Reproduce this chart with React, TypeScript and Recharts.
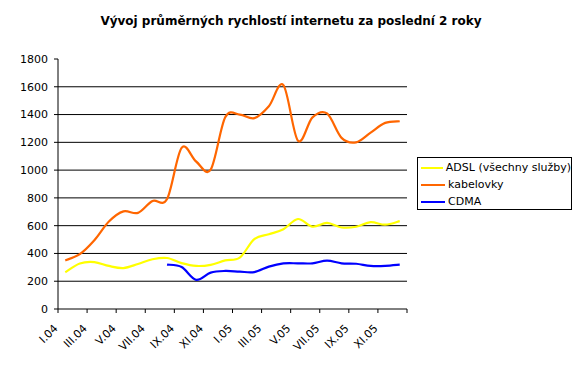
import React from 'react';
import {
  LineChart,
  Line,
  XAxis,
  YAxis,
  CartesianGrid
} from 'recharts';

const months = [
  'I.04', 'II.04', 'III.04', 'IV.04', 'V.04', 'VI.04', 'VII.04', 'VIII.04', 'IX.04', 'X.04', 'XI.04', 'XII.04',
  'I.05', 'II.05', 'III.05', 'IV.05', 'V.05', 'VI.05', 'VII.05', 'VIII.05', 'IX.05', 'X.05', 'XI.05', 'XII.05'
];

const adsl = [265, 328, 338, 310, 295, 324, 358, 367, 330, 310, 318, 350, 370, 503, 538, 574, 648, 593, 620, 587, 592, 625, 607, 633];
const kabelovky = [350, 395, 495, 630, 703, 692, 778, 792, 1160, 1062, 1003, 1380, 1400, 1374, 1460, 1612, 1212, 1380, 1408, 1232, 1200, 1270, 1340, 1352];
const cdma = [null, null, null, null, null, null, null, 320, 302, 210, 262, 274, 269, 266, 305, 328, 329, 329, 348, 329, 326, 310, 310, 319];

const yMax = 1800;
const yTicks = [0, 200, 400, 600, 800, 1000, 1200, 1400, 1600, 1800];
const gridValues = [200, 400, 600, 800, 1000, 1200, 1400, 1600];

const seriesInfo = [
  { key: 'adsl', name: 'ADSL (všechny služby)', color: '#FFFF00' },
  { key: 'kabelovky', name: 'kabelovky', color: '#FF6600' },
  { key: 'cdma', name: 'CDMA', color: '#0000FF' },
];

const data = months.map((m, i) => ({
  month: m,
  adsl: adsl[i],
  kabelovky: kabelovky[i],
  cdma: cdma[i],
}));

const W = 582;
const H = 373;
const margin = { top: 59, right: 175, bottom: 4, left: 0 };
const yAxisWidth = 58;
const band = (W - margin.left - margin.right - yAxisWidth) / months.length;

// Excel-like smoothed line (Catmull-Rom through every point)
const excelCurve = (context: any) => {
  let pts: number[][] = [];
  return {
    areaStart() {},
    areaEnd() {},
    lineStart() { pts = []; },
    point(x: number, y: number) { pts.push([+x, +y]); },
    lineEnd() {
      if (!pts.length) return;
      context.moveTo(pts[0][0], pts[0][1]);
      for (let i = 0; i < pts.length - 1; i++) {
        const p0 = pts[i - 1] || pts[i];
        const p1 = pts[i];
        const p2 = pts[i + 1];
        const p3 = pts[i + 2] || p2;
        context.bezierCurveTo(
          p1[0] + (p2[0] - p0[0]) / 6, p1[1] + (p2[1] - p0[1]) / 6,
          p2[0] - (p3[0] - p1[0]) / 6, p2[1] - (p3[1] - p1[1]) / 6,
          p2[0], p2[1]
        );
      }
    },
  };
};

const MonthTick = (props: any) => {
  const { x, y, payload } = props;
  const bx = x - band / 2;
  const tx = bx + 0.5;
  const ty = y + 20;
  return (
    <g>
      <line x1={bx} x2={bx} y1={y} y2={y + 4} stroke="#000" />
      {payload.index === months.length - 2 && (
        <line x1={bx + band * 2} x2={bx + band * 2} y1={y} y2={y + 4} stroke="#000" />
      )}
      <text
        x={tx}
        y={ty}
        textAnchor="end"
        fontSize={11}
        fill="#000"
        fontFamily="DejaVu Sans"
        transform={`rotate(-45, ${tx}, ${ty})`}
      >
        {payload.value}
      </text>
    </g>
  );
};

const ChartLegend = () => (
  <div
    style={{
      position: 'absolute',
      left: 417,
      top: 157,
      width: 153,
      height: 51,
      border: '1px solid #000',
      background: '#fff',
    }}
  >
    {seriesInfo.map((s, i) => (
      <div key={s.key} style={{ display: 'flex', alignItems: 'center', height: 17, marginTop: i === 0 ? 1 : 0 }}>
        <div style={{ width: 24, height: 2, background: s.color, marginLeft: 3, marginRight: 3 }} />
        <span style={{ fontSize: 11, fontFamily: 'DejaVu Sans', color: '#000', whiteSpace: 'nowrap' }}>{s.name}</span>
      </div>
    ))}
  </div>
);

export default function App() {
  return (
    <div style={{ position: 'absolute', left: 0, top: 0, width: W, height: H, background: '#fff' }}>
      <div
        style={{
          position: 'absolute',
          top: 14,
          left: 0,
          width: W,
          textAlign: 'center',
          fontFamily: 'DejaVu Sans',
          fontWeight: 'bold',
          fontSize: 12,
          color: '#000',
        }}
      >
        Vývoj průměrných rychlostí internetu za poslední 2 roky
      </div>
      <LineChart width={W} height={H} data={data} margin={margin}>
        <CartesianGrid
          vertical={false}
          stroke="#000"
          horizontalCoordinatesGenerator={(p: any) =>
            gridValues.map(v => p.offset.top + p.offset.height * (1 - v / yMax))
          }
        />
        <XAxis
          dataKey="month"
          interval={1}
          height={60}
          padding={{ left: band / 2, right: band / 2 }}
          tickLine={false}
          tickSize={0}
          tickMargin={0}
          axisLine={{ stroke: '#000' }}
          tick={(props: any) => <MonthTick {...props} />}
        />
        <YAxis
          domain={[0, yMax]}
          ticks={yTicks}
          interval={0}
          width={yAxisWidth}
          tickSize={4}
          tickMargin={6}
          axisLine={{ stroke: '#000' }}
          tickLine={{ stroke: '#000' }}
          tick={{ fill: '#000', fontSize: 11, fontFamily: 'DejaVu Sans' }}
        />
        {seriesInfo.map(s => (
          <Line
            key={s.key}
            name={s.name}
            dataKey={s.key}
            type={excelCurve as any}
            stroke={s.color}
            strokeWidth={2.2}
            dot={false}
            activeDot={false}
            isAnimationActive={false}
          />
        ))}
      </LineChart>
      <ChartLegend />
    </div>
  );
}
